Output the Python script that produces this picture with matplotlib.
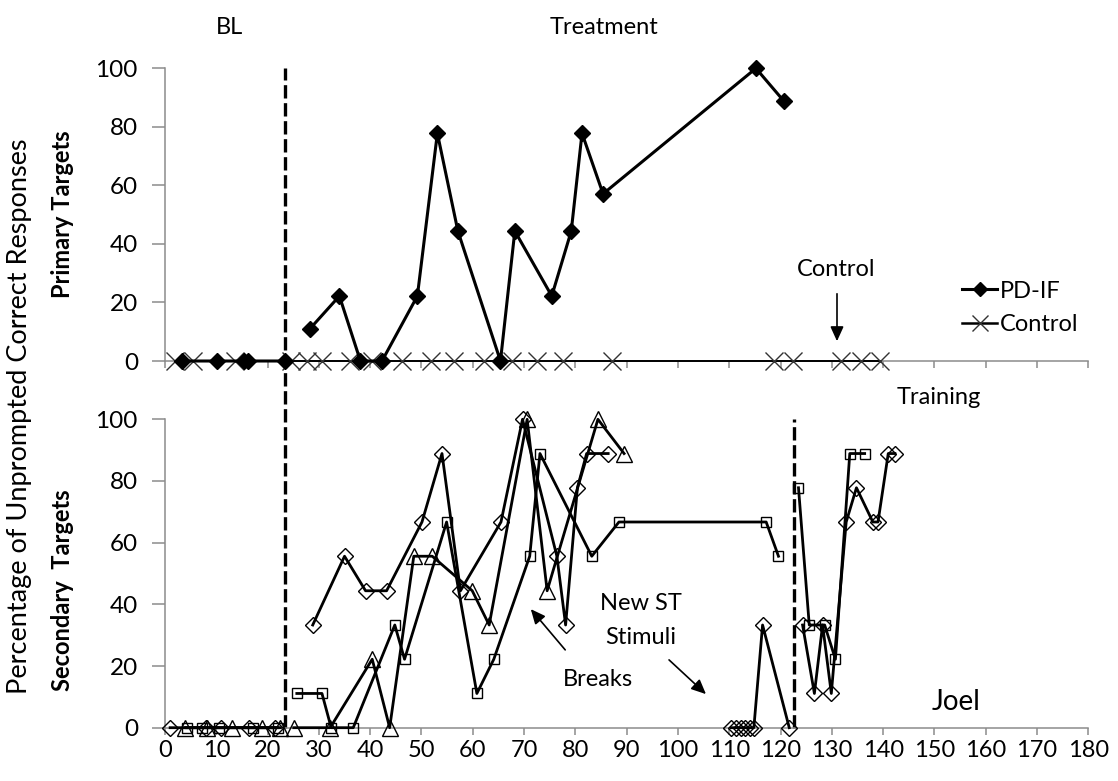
import numpy as np
import matplotlib
matplotlib.use("Agg")
import matplotlib.pyplot as plt
from matplotlib.lines import Line2D
from matplotlib.patches import FancyArrowPatch

plt.rcParams["font.family"] = ["Lato", "DejaVu Sans"]

nan = np.nan

# Primary targets: PD-IF sessions (gap = phase change)
pdif_x = [3.3, 10.1, 15.4, 16.2, 23.4, nan, 28.3, 34.0, 38.1, 42.3, 49.2, 53.1, 57.1,
          65.4, 68.2, 75.4, 79.2, 81.3, 85.4, 115.2, 120.6]
pdif_y = [0, 0, 0, 0, 0, nan, 11.1, 22.2, 0, 0, 22.2, 77.8, 44.4,
          0, 44.4, 22.2, 44.4, 77.8, 57.1, 100, 88.9]

# Primary targets: control probes
ctrl_x = [2.0, 5.5, 13.7, 24.6, 27.7, 30.6, 36.1, 40.4, 46.2, 51.8, 56.3, 62.2,
          67.7, 72.6, 77.5, 87.2, 118.8, 122.4, 131.8, 135.7, 139.3]
ctrl_y = [0] * len(ctrl_x)

# Secondary targets, three stimulus sets
diam_x = [1.0, 8.0, 11.0, 16.3, 21.5, nan,
          28.8, 35.0, 39.1, 43.2, 50.1, 54.0, 57.6, 65.5, 69.7, 76.4, 78.1, 80.4, 82.2, 86.4, nan,
          110.4, 111.3, 112.2, 113.1, 114.0, 114.8, 116.5, 121.7, nan,
          124.3, 126.6, 128.2, 129.9, 132.8, 134.8, 138.0, 139.0, 141.0, 142.3]
diam_y = [0, 0, 0, 0, 0, nan,
          33.3, 55.6, 44.4, 44.4, 66.7, 88.9, 44.4, 66.7, 100, 55.6, 33.3, 77.8, 88.9, 88.9, nan,
          0, 0, 0, 0, 0, 0, 33.3, 0, nan,
          33.3, 11.1, 33.3, 11.1, 66.7, 77.8, 66.7, 66.7, 88.9, 88.9]

sq_x = [4.2, 7.2, 10.5, 17.2, 22.0, nan,
        25.7, 30.6, 32.4, 36.7, 44.8, 46.7, 54.9, 60.8, 64.1, 71.1, 73.1, 83.2, 88.5, 117.2, 119.6, nan,
        123.5, 125.6, 128.6, 130.7, 133.5, 136.4]
sq_y = [0, 0, 0, 0, 0, nan,
        11.1, 11.1, 0, 0, 33.3, 22.2, 66.7, 11.1, 22.2, 55.6, 88.9, 55.6, 66.7, 66.7, 55.6, nan,
        77.8, 33.3, 33.3, 22.2, 88.9, 88.9]

tri_x = [3.9, 8.1, 13.0, 18.9, 22.5, nan,
         25.1, 32.2, 40.4, 43.8, 48.5, 52.1, 59.9, 63.2, 70.6, 74.5, 84.4, 89.5]
tri_y = [0, 0, 0, 0, 0, nan,
         0, 0, 22.2, 0, 55.6, 55.6, 44.4, 33.3, 100, 44.4, 100, 88.9]

phase_bl_tx = 23.4
phase_tr = 122.7

W, H = 1118, 781
fig = plt.figure(figsize=(W / 100, H / 100), dpi=100)
fig.patch.set_facecolor("white")

ax1 = fig.add_axes([165 / W, 1 - 361 / H, 923.3 / W, 292.7 / H])
ax2 = fig.add_axes([165 / W, 1 - 727.7 / H, 923.3 / W, 308.4 / H])

SPINE = "#8c8c8c"
FS = 17


def style_axis(ax, show_xlabels):
    ax.set_xlim(0, 180)
    ax.set_ylim(0, 100)
    ax.set_xticks(np.arange(0, 181, 10))
    ax.set_yticks(np.arange(0, 101, 20))
    for s in ("top", "right"):
        ax.spines[s].set_visible(False)
    for s in ("left", "bottom"):
        ax.spines[s].set_color(SPINE)
        ax.spines[s].set_linewidth(1.1)
    ax.tick_params(axis="y", direction="out", length=9.5, width=1.1, color=SPINE,
                   pad=10, labelsize=FS + 0.5)
    ax.tick_params(axis="x", direction="out", length=5, width=1.1, color=SPINE,
                   pad=4, labelsize=FS, labelbottom=show_xlabels)
    ax.patch.set_alpha(0)


style_axis(ax1, False)
style_axis(ax2, True)

# top panel
ax1.plot(ctrl_x, ctrl_y, color="black", lw=1.4, marker="x", ms=13, mew=1.0,
         mec="#333333", clip_on=False, zorder=3)
ax1.plot(pdif_x, pdif_y, color="black", lw=2.2, marker="D", ms=8.5, mfc="black",
         mec="black", clip_on=False, zorder=4)

# bottom panel
open_kw = dict(color="black", lw=2.0, mfc="none", mec="black", mew=1.0, clip_on=False, zorder=3)
ax2.plot(diam_x, diam_y, marker="D", ms=8.5, **open_kw)
ax2.plot(tri_x, tri_y, marker="^", ms=11, **open_kw)
ax2.plot(sq_x, sq_y, marker="s", ms=7, **open_kw)

# phase change lines
p1 = ax1.get_position()
p2 = ax2.get_position()
ymax_ax2 = (p1.y1 - p2.y0) / p2.height
ax2.axvline(phase_bl_tx, ymin=0, ymax=ymax_ax2, color="black", lw=2.4,
            ls=(0, (4.0, 1.4)), clip_on=False, zorder=2)
ax2.axvline(phase_tr, ymin=0, ymax=1.0, color="black", lw=2.4,
            ls=(0, (4.0, 1.4)), clip_on=False, zorder=2)


def fx(px):
    return px / W


def fy(py):
    return 1 - py / H


# phase labels and annotations
fig.text(fx(230), fy(27), "BL", ha="center", va="center", fontsize=FS)
fig.text(fx(604), fy(27), "Treatment", ha="center", va="center", fontsize=FS)
fig.text(fx(939), fy(397), "Training", ha="center", va="center", fontsize=FS)
fig.text(fx(836), fy(270), "Control", ha="center", va="center", fontsize=FS)
fig.text(fx(641), fy(604), "New ST", ha="center", va="center", fontsize=FS)
fig.text(fx(641), fy(638), "Stimuli", ha="center", va="center", fontsize=FS)
fig.text(fx(598), fy(680), "Breaks", ha="center", va="center", fontsize=FS)
fig.text(fx(956), fy(702), "Joel", ha="center", va="center", fontsize=FS + 3)

arrow = dict(arrowstyle="-|>,head_length=0.55,head_width=0.25", color="black",
             lw=1.2, mutation_scale=16, transform=fig.transFigure)
fig.add_artist(FancyArrowPatch((fx(837), fy(291)), (fx(837), fy(344)), **arrow))
fig.add_artist(FancyArrowPatch((fx(567), fy(652)), (fx(529), fy(607)), **arrow))
fig.add_artist(FancyArrowPatch((fx(667), fy(658)), (fx(708), fy(696)), **arrow))

# axis titles
fig.text(fx(20), fy(416), "Percentage of Unprompted Correct Responses", rotation=90,
         ha="center", va="center", fontsize=19.5)
fig.text(fx(62), fy(214), "Primary Targets", rotation=90, ha="center", va="center",
         fontsize=FS, fontweight="bold")
fig.text(fx(62), fy(590), "Secondary  Targets", rotation=90, ha="center", va="center",
         fontsize=FS, fontweight="bold")

# legend
handles = [
    Line2D([], [], color="black", lw=2.2, marker="D", ms=7, mfc="black"),
    Line2D([], [], color="black", lw=1.8, marker="x", ms=12, mew=1.0, mec="#333333"),
]
fig.legend(handles, ["PD-IF", "Control"], loc="center left",
           bbox_to_anchor=(fx(950), fy(308)), frameon=False, fontsize=FS,
           handlelength=1.5, handletextpad=0.1, labelspacing=0.55, borderpad=0)

fig.savefig("out.png", dpi=100)
